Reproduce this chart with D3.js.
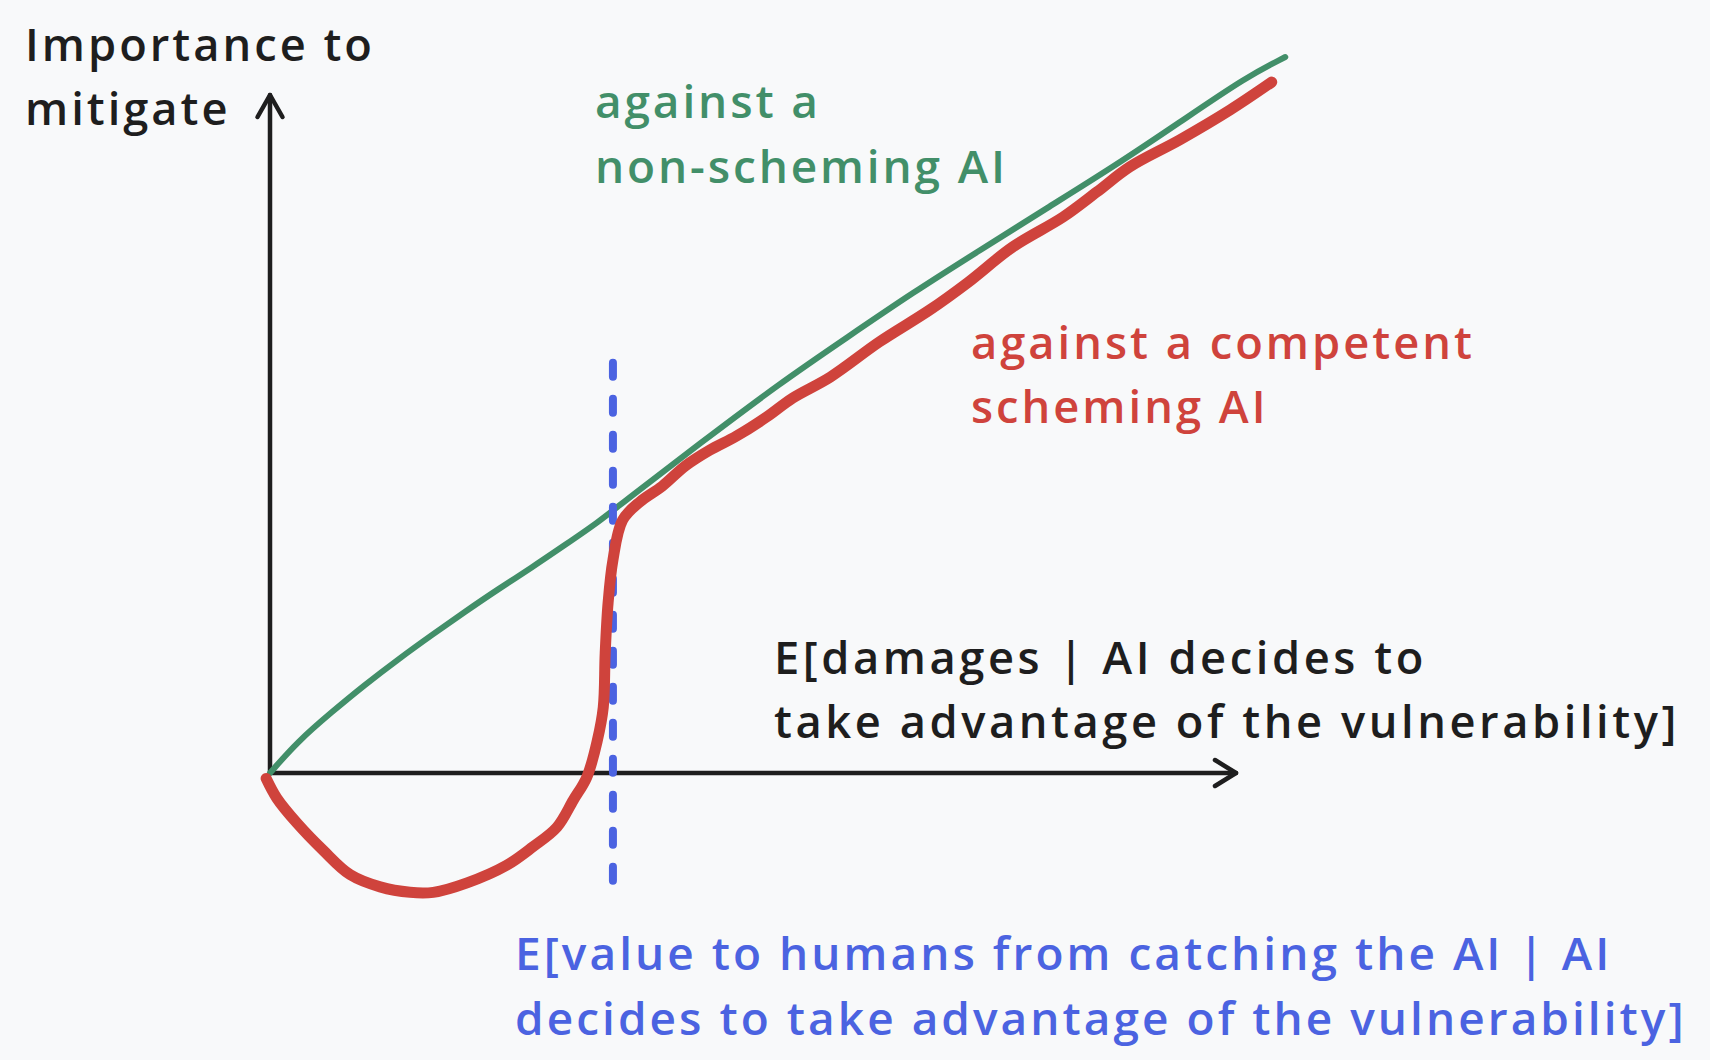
<!DOCTYPE html>
<html>
<head>
<meta charset="utf-8">
<script src="https://cdn.jsdelivr.net/npm/d3@7"></script>
<style>
  html, body { margin: 0; padding: 0; background: #f8f9fa; }
  svg { display: block; }
  text { font-family: "Open Sans", "Noto Sans", sans-serif; font-weight: 600; }
</style>
</head>
<body>
<div id="chart"></div>
<script>
// Hand-sketched curves, in axis units (each axis runs 0..10).
var greenX = [0, 0.29, 0.64, 0.98, 1.33, 1.68, 2.02, 2.36, 2.71, 3.05, 3.40, 3.68, 4.45, 5.28, 5.97, 6.66, 7.35, 8.04, 8.73, 9.42, 10.11, 10.51];
var greenY = [0, 0.47, 0.90, 1.30, 1.68, 2.04, 2.38, 2.71, 3.03, 3.36, 3.70, 4.02, 4.86, 5.75, 6.42, 7.09, 7.71, 8.33, 8.94, 9.60, 10.27, 10.56];

var redX = [-0.04, 0.07, 0.28, 0.55, 0.83, 1.14, 1.45, 1.69, 2.04, 2.45, 2.72, 2.97, 3.14, 3.28, 3.39, 3.45, 3.47, 3.50, 3.55, 3.65, 3.83, 4.06, 4.30, 4.55, 4.83, 5.14, 5.41, 5.80, 6.31, 6.83, 7.22, 7.69, 8.21, 8.56, 8.90, 9.42, 9.94, 10.37];
var redY = [-0.08, -0.37, -0.74, -1.14, -1.50, -1.68, -1.76, -1.76, -1.62, -1.36, -1.09, -0.80, -0.40, -0.06, 0.49, 0.97, 1.77, 2.51, 3.14, 3.73, 4.00, 4.23, 4.53, 4.76, 4.97, 5.25, 5.53, 5.84, 6.36, 6.83, 7.23, 7.76, 8.20, 8.57, 8.94, 9.34, 9.78, 10.19];

// Break-even point: value of catching the AI.
var catchValue = 3.55;
var catchRange = [-1.68, 6.05];

// Labels: lines, colour, left edge, baselines, width of the widest line.
var labels = [
    {lines: ["Importance to", "mitigate"], color: "#1e1e1e", x: 25, y: [61, 125], width: 350},
    {lines: ["against a", "non-scheming AI"], color: "#428f69", x: 595, y: [118, 183], width: 413},
    {lines: ["against a competent", "scheming AI"], color: "#cf433c", x: 971, y: [359, 423], width: 504},
    {lines: ["E[damages | AI decides to", "take advantage of the vulnerability]"], color: "#1e1e1e", x: 774, y: [674, 738], width: 906},
    {lines: ["E[value to humans from catching the AI | AI", "decides to take advantage of the vulnerability]"], color: "#4b63e1", x: 515, y: [970, 1035], width: 1172}
];

var width = 1710, height = 1060;
var svg = d3.select("#chart").append("svg")
    .attr("width", width)
    .attr("height", height);

svg.append("rect").attr("width", width).attr("height", height).attr("fill", "#f8f9fa");

var x = d3.scaleLinear().domain([0, 10]).range([270, 1236]);
var y = d3.scaleLinear().domain([0, 10]).range([773, 95]);

var ink = "#1e1e1e";
var axes = svg.append("g")
    .attr("stroke", ink)
    .attr("stroke-width", 4.5)
    .attr("stroke-linecap", "round")
    .attr("stroke-linejoin", "round")
    .attr("fill", "none");

// Axis lines with open arrow heads.
axes.append("line")
    .attr("x1", x(0)).attr("y1", y(0))
    .attr("x2", x(10)).attr("y2", y(0));
axes.append("path")
    .attr("d", "M" + (x(10) - 21) + "," + (y(0) - 13) + "L" + x(10) + "," + y(0) + "L" + (x(10) - 21) + "," + (y(0) + 13));
axes.append("line")
    .attr("x1", x(0)).attr("y1", y(0))
    .attr("x2", x(0)).attr("y2", y(10));
axes.append("path")
    .attr("d", "M" + (x(0) - 12.5) + "," + (y(10) + 22) + "L" + x(0) + "," + y(10) + "L" + (x(0) + 12.5) + "," + (y(10) + 22));

function lineWith(curve) {
    return d3.line()
        .x(function(d) { return x(d[0]); })
        .y(function(d) { return y(d[1]); })
        .curve(curve);
}

var green = d3.zip(greenX, greenY);
var red = d3.zip(redX, redY);

svg.append("path")
    .attr("d", lineWith(d3.curveBasis)(green))
    .attr("fill", "none")
    .attr("stroke", "#428f69")
    .attr("stroke-width", 6)
    .attr("stroke-linecap", "round")
    .attr("stroke-linejoin", "round");

svg.append("line")
    .attr("x1", x(catchValue)).attr("y1", y(catchRange[1]))
    .attr("x2", x(catchValue)).attr("y2", y(catchRange[0]))
    .attr("stroke", "#4b63e1")
    .attr("stroke-width", 8)
    .attr("stroke-linecap", "round")
    .attr("stroke-dasharray", "14 22");

svg.append("path")
    .attr("d", lineWith(d3.curveCatmullRom.alpha(0.5))(red))
    .attr("fill", "none")
    .attr("stroke", "#cf433c")
    .attr("stroke-width", 11)
    .attr("stroke-linecap", "round")
    .attr("stroke-linejoin", "round");

// Each label is one text with a tspan per line. The size is kept small enough
// that the line boxes do not run into each other; letter spacing then widens
// the widest line out to its width (the hand-drawn font is a wide one).
labels.forEach(function(lab) {
    var text = svg.append("text")
        .attr("fill", lab.color)
        .style("font-size", "40px");
    var spans = text.selectAll("tspan").data(lab.lines).enter().append("tspan")
        .attr("x", lab.x)
        .attr("y", function(d, i) { return lab.y[i]; })
        .text(function(d) { return d; });
    var widest = 0, widestChars = 1;
    spans.each(function(d) {
        var w = this.getComputedTextLength();
        if (w > widest) { widest = w; widestChars = d.length; }
    });
    var gap = lab.y[1] - lab.y[0];
    var size = Math.min(40 * lab.width / widest, (gap - 2) / 1.37);
    var natural = widest * size / 40;
    var spacing = Math.max(0, (lab.width - natural) / widestChars);
    text.style("font-size", size + "px")
        .style("letter-spacing", spacing + "px");
});
</script>
</body>
</html>
